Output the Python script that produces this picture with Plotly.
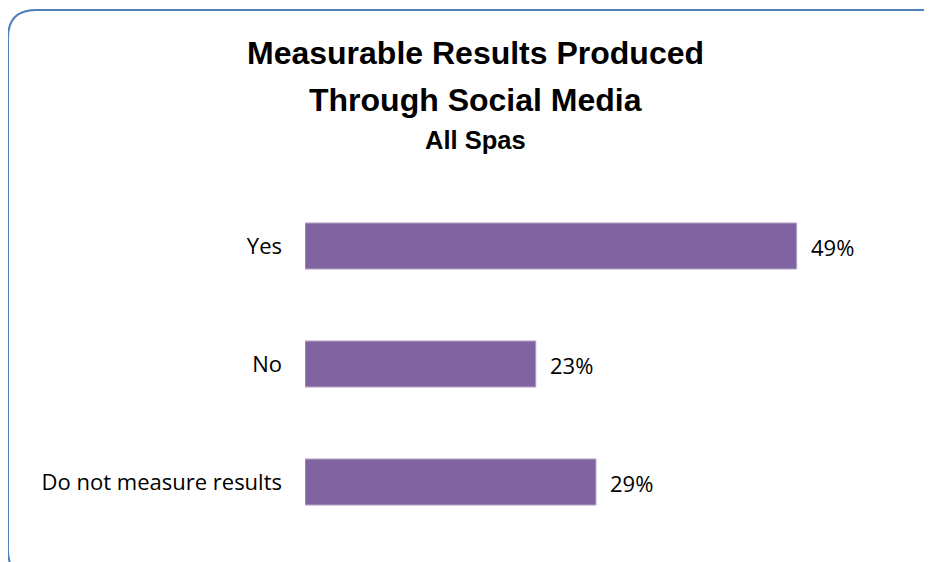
import plotly.graph_objects as go

categories = ["Yes", "No", "Do not measure results"]
values = [49, 23, 29]
value_labels = ["49%", "23%", "29%"]
title_lines = ["Measurable Results Produced", "Through Social Media", "All Spas"]

OFF = 8  # page body margin
W, H = 932 - OFF, 562 - OFF
L, R, T, B = 305 - OFF, 25, 187 - OFF, 21
pw, ph = W - L - R, H - T - B

def px_to_paper(x, y):
    x -= OFF
    y -= OFF
    return (x - L) / pw, (H - B - y) / ph

label_font = dict(family="Open Sans, sans-serif", size=22, color="#000000")

fig = go.Figure()
fig.add_trace(go.Bar(
    y=categories, x=values, orientation="h",
    marker=dict(color="#8064A2", line=dict(color="#B3A2C7", width=1)),
    width=0.39,
    cliponaxis=False,
))
for c, v, t in zip(categories, values, value_labels):
    fig.add_annotation(x=v, y=c, text=t, xref="x", yref="y", showarrow=False,
                       xanchor="left", yanchor="middle", xshift=12, yshift=-1, font=label_font)

# rounded border
x0, y0, x1, y1, r = 8, 10, 950, 578, 28
def P(x, y):
    a, b = px_to_paper(x, y)
    return f"{a:.5f},{b:.5f}"
path = (f"M {P(x0, y0 + r)} Q {P(x0, y0)} {P(x0 + r, y0)} L {P(x1 - r, y0)} "
        f"Q {P(x1, y0)} {P(x1, y0 + r)} L {P(x1, y1 - r)} Q {P(x1, y1)} {P(x1 - r, y1)} "
        f"L {P(x0 + r, y1)} Q {P(x0, y1)} {P(x0, y1 - r)} Z")
fig.add_shape(type="path", path=path, xref="paper", yref="paper",
              line=dict(color="#4F81BD", width=2), layer="above")

title_font = "Liberation Sans, Arial, sans-serif"
for text, ypx, size in [(title_lines[0], 53, 32), (title_lines[1], 100, 32), (title_lines[2], 140, 25.5)]:
    xp, yp = px_to_paper(475, ypx)
    fig.add_annotation(text=f"<b>{text}</b>", x=xp, y=yp, xref="paper", yref="paper",
                       showarrow=False, xanchor="center", yanchor="middle",
                       font=dict(family=title_font, size=size, color="#000000"))

fig.update_layout(
    width=W, height=H,
    margin=dict(l=L, r=R, t=T, b=B),
    paper_bgcolor="white", plot_bgcolor="white",
    showlegend=False,
    xaxis=dict(range=[0, 60], visible=False),
    yaxis=dict(autorange="reversed", showgrid=False, showline=False, ticks="",
               ticklabelstandoff=22, tickfont=label_font),
)
fig.write_html("out.html")
